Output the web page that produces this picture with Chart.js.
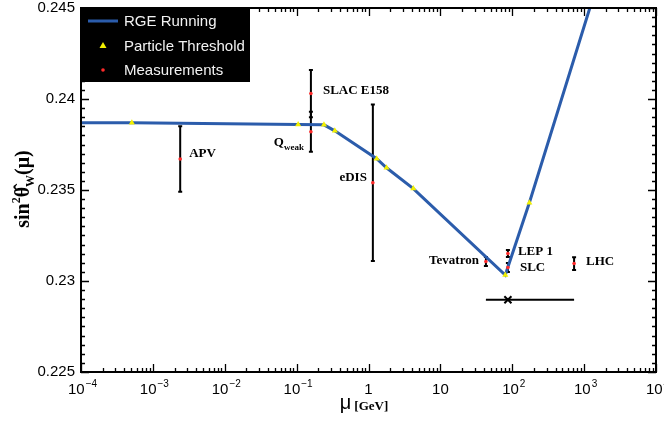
<!DOCTYPE html>
<html>
<head>
<meta charset="utf-8">
<script src="https://cdn.jsdelivr.net/npm/chart.js@4.4.0/dist/chart.umd.min.js"></script>
<style>
  html, body { margin: 0; padding: 0; background: #fff; }
</style>
</head>
<body>
<canvas id="chart" width="664" height="423"></canvas>
<script>
// RGE running curve of sin^2 theta_W (mu in GeV)
const rgeMu  = [1e-4, 5.1e-4, 0.105, 0.24, 0.34, 1.3, 1.78, 4.2, 80, 173, 1200];
const rgeVal = [0.2387, 0.23869, 0.2386, 0.23858, 0.23825, 0.23672, 0.23622, 0.23508, 0.23033, 0.2343, 0.245];

// particle thresholds on the curve
const thresholdMu  = [5.1e-4, 0.105, 0.24, 0.34, 1.3, 1.78, 4.2, 80, 173];
const thresholdVal = [0.23869, 0.2386, 0.23858, 0.23825, 0.23672, 0.23622, 0.23508, 0.23033, 0.2343];

// measurements with errors
const measNames = ["APV", "Qweak", "SLAC E158", "eDIS", "Tevatron", "LEP 1", "SLC", "LHC"];
const measMu    = [2.4e-3, 0.158, 0.158, 1.15, 43, 87, 87, 725];
const measVal   = [0.2367, 0.2382, 0.2403, 0.2354, 0.23107, 0.23151, 0.23074, 0.23096];
const measErr   = [0.0018, 0.0011, 0.0013, 0.0043, 0.00025, 0.00019, 0.00025, 0.00035];

// horizontal bar below the Z pole
const barMu  = [43, 87, 725];
const barVal = [0.22897, 0.22897, 0.22897];

const xDecades = [-4, -3, -2, -1, 0, 1, 2, 3, 4];
const yMin = 0.225, yMax = 0.245, yStep = 0.0005;

const BLUE = "#2b5cab";
const YELLOW = "#f2f000";
const RED = "#ff2a2a";

// label placement: [align, dx, dy] relative to the measurement point
const labelPlace = [
  ["left", 9, -2],
  ["right", -7, 14],
  ["left", 12, 0],
  ["right", -6, -2],
  ["right", -7, 2],
  ["left", 10, 1],
  ["left", 12, 3],
  ["left", 12, 1]
];

function isMajorY(v) {
  return Math.round(v * 10000) % 50 === 0;
}

const decor = {
  id: "decor",
  beforeDatasetsDraw(chart) {
    const { ctx, scales: { x, y } } = chart;
    ctx.save();
    ctx.strokeStyle = "#000";
    ctx.lineWidth = 2;
    measMu.forEach((m, i) => {
      const px = x.getPixelForValue(m);
      const top = y.getPixelForValue(measVal[i] + measErr[i]);
      const bot = y.getPixelForValue(measVal[i] - measErr[i]);
      ctx.beginPath();
      ctx.moveTo(px, top); ctx.lineTo(px, bot);
      ctx.moveTo(px - 2, top); ctx.lineTo(px + 2, top);
      ctx.moveTo(px - 2, bot); ctx.lineTo(px + 2, bot);
      ctx.stroke();
    });
    ctx.restore();
  },
  afterDraw(chart) {
    const { ctx, chartArea: a, scales: { x, y } } = chart;
    ctx.save();

    // frame
    ctx.strokeStyle = "#000";
    ctx.lineWidth = 2;
    ctx.strokeRect(a.left, a.top, a.right - a.left, a.bottom - a.top);

    // inward ticks, mirrored
    ctx.lineWidth = 1.3;
    ctx.beginPath();
    y.ticks.forEach(t => {
      const py = Math.round(y.getPixelForValue(t.value)) + 0.5;
      const len = isMajorY(t.value) ? 8 : 4;
      ctx.moveTo(a.left, py); ctx.lineTo(a.left + len, py);
      ctx.moveTo(a.right, py); ctx.lineTo(a.right - len, py);
    });
    xDecades.forEach(d => {
      for (let k = 1; k <= 9; k++) {
        if (d === 4 && k > 1) break;
        const px = Math.round(x.getPixelForValue(k * Math.pow(10, d))) + 0.5;
        const len = k === 1 ? 8 : 4;
        ctx.moveTo(px, a.bottom); ctx.lineTo(px, a.bottom - len);
        ctx.moveTo(px, a.top); ctx.lineTo(px, a.top + len);
      }
    });
    ctx.stroke();

    // x tick labels with superscripts
    ctx.fillStyle = "#000";
    ctx.textBaseline = "alphabetic";
    xDecades.forEach(d => {
      const px = x.getPixelForValue(Math.pow(10, d));
      const base = a.bottom + 22;
      if (d === 0 || d === 1) {
        ctx.font = '15px "Liberation Sans", Arial, sans-serif';
        ctx.textAlign = "center";
        ctx.fillText(d === 0 ? "1" : "10", px, base);
      } else {
        const exp = d < 0 ? "\u2212" + (-d) : String(d);
        ctx.font = '15px "Liberation Sans", Arial, sans-serif';
        const w1 = ctx.measureText("10").width;
        ctx.font = '10px "Liberation Sans", Arial, sans-serif';
        const w2 = ctx.measureText(exp).width;
        const start = px - (w1 + w2) / 2 + 1;
        ctx.textAlign = "left";
        ctx.font = '15px "Liberation Sans", Arial, sans-serif';
        ctx.fillText("10", start, base);
        ctx.font = '10px "Liberation Sans", Arial, sans-serif';
        ctx.fillText(exp, start + w1 + 1, base - 7);
      }
    });

    // x title
    ctx.textAlign = "left";
    ctx.font = '20px "Liberation Sans", Arial, sans-serif';
    const wMu = ctx.measureText("\u03bc").width;
    ctx.font = 'bold 13px "Liberation Serif", "Times New Roman", serif';
    const wGev = ctx.measureText("[GeV]").width;
    let sx = 364 - (wMu + 3 + wGev) / 2;
    ctx.font = '20px "Liberation Sans", Arial, sans-serif';
    ctx.fillText("\u03bc", sx, 409);
    ctx.font = 'bold 13px "Liberation Serif", "Times New Roman", serif';
    ctx.fillText("[GeV]", sx + wMu + 3, 410);

    // y title, rotated
    const big = 'bold 20px "Liberation Serif", "Times New Roman", serif';
    const small = 'bold 12px "Liberation Serif", "Times New Roman", serif';
    const parts = [
      ["sin", big, 0],
      ["2", small, -9],
      ["\u03b8\u0302", big, 0],
      ["W", small, 5],
      ["(\u03bc)", big, 0]
    ];
    let total = 0;
    parts.forEach(p => { ctx.font = p[1]; total += ctx.measureText(p[0]).width; });
    ctx.translate(29, 189);
    ctx.rotate(-Math.PI / 2);
    let cx = -total / 2;
    parts.forEach(p => {
      ctx.font = p[1];
      ctx.fillText(p[0], cx, p[2]);
      cx += ctx.measureText(p[0]).width;
    });
    ctx.setTransform(1, 0, 0, 1, 0, 0);

    // measurement labels
    const lf = 'bold 13px "Liberation Serif", "Times New Roman", serif';
    measNames.forEach((name, i) => {
      const px = x.getPixelForValue(measMu[i]);
      const py = y.getPixelForValue(measVal[i]);
      const [align, dx, dy] = labelPlace[i];
      if (name === "Qweak") {
        ctx.font = lf;
        const wq = ctx.measureText("Q").width;
        ctx.font = 'bold 9px "Liberation Serif", "Times New Roman", serif';
        const ws = ctx.measureText("weak").width;
        const left = px + dx - wq - ws;
        ctx.textAlign = "left";
        ctx.font = lf;
        ctx.fillText("Q", left, py + dy);
        ctx.font = 'bold 9px "Liberation Serif", "Times New Roman", serif';
        ctx.fillText("weak", left + wq, py + dy + 4);
      } else {
        ctx.font = lf;
        ctx.textAlign = align;
        ctx.fillText(name, px + dx, py + dy);
      }
    });

    // legend box
    ctx.fillStyle = "#000";
    ctx.fillRect(a.left, a.top, 169, 74);
    ctx.font = '15px "Liberation Sans", Arial, sans-serif';
    ctx.textAlign = "left";
    ctx.textBaseline = "middle";
    const ds = chart.data.datasets;
    const rows = [ds[2], ds[0], ds[1]];
    rows.forEach((d, i) => {
      const ry = a.top + 13 + i * 24.5;
      const mx = a.left + 22;
      if (i === 0) {
        ctx.strokeStyle = BLUE; ctx.lineWidth = 3;
        ctx.beginPath(); ctx.moveTo(a.left + 7, ry); ctx.lineTo(a.left + 37, ry); ctx.stroke();
      } else if (i === 1) {
        ctx.fillStyle = YELLOW;
        ctx.beginPath();
        ctx.moveTo(mx, ry - 3.5); ctx.lineTo(mx + 3.5, ry + 2.5); ctx.lineTo(mx - 3.5, ry + 2.5);
        ctx.closePath(); ctx.fill();
      } else {
        ctx.fillStyle = RED;
        ctx.beginPath(); ctx.arc(mx, ry, 1.8, 0, Math.PI * 2); ctx.fill();
      }
      ctx.fillStyle = "#f2f2f2";
      ctx.fillText(d.label, a.left + 43, ry + 1);
    });

    ctx.restore();
  }
};

new Chart(document.getElementById("chart"), {
  type: "scatter",
  data: {
    datasets: [
      {
        label: "Particle Threshold",
        data: thresholdMu.map((m, i) => ({ x: m, y: thresholdVal[i] })),
        pointStyle: "triangle",
        pointRadius: 3.5,
        backgroundColor: YELLOW,
        borderWidth: 0
      },
      {
        label: "Measurements",
        data: measMu.map((m, i) => ({ x: m, y: measVal[i] })),
        pointRadius: 1.8,
        backgroundColor: RED,
        borderWidth: 0
      },
      {
        type: "line",
        label: "RGE Running",
        data: rgeMu.map((m, i) => ({ x: m, y: rgeVal[i] })),
        borderColor: BLUE,
        borderWidth: 3,
        pointRadius: 0,
        tension: 0,
        fill: false
      },
      {
        type: "line",
        label: "",
        data: barMu.map((m, i) => ({ x: m, y: barVal[i] })),
        borderColor: "#000",
        borderWidth: 2,
        pointStyle: "crossRot",
        pointRadius: [0, 5, 0],
        pointBorderWidth: 2,
        pointBorderColor: "#000",
        tension: 0,
        fill: false
      }
    ]
  },
  options: {
    responsive: false,
    animation: false,
    layout: { padding: { top: 8, right: 8, left: 0, bottom: 0 } },
    plugins: {
      legend: { display: false },
      tooltip: { enabled: false }
    },
    scales: {
      x: {
        type: "logarithmic",
        min: 1e-4,
        max: 1e4,
        grid: { display: false, drawTicks: false },
        border: { display: false },
        ticks: { display: false },
        afterFit(scale) {
          scale.height = 51;
          scale.paddingLeft = 0; scale.paddingRight = 0;
        }
      },
      y: {
        min: yMin,
        max: yMax,
        grid: { display: false, drawTicks: false },
        border: { display: false },
        ticks: {
          stepSize: yStep,
          autoSkip: false,
          padding: 6,
          color: "#000",
          font: { family: '"Liberation Sans", Arial, sans-serif', size: 15 },
          callback: v => isMajorY(v) ? String(Math.round(v * 1000) / 1000) : ""
        },
        afterFit(scale) {
          scale.width = 81;
          scale.paddingTop = 0; scale.paddingBottom = 0;
        }
      }
    }
  },
  plugins: [decor]
});
</script>
</body>
</html>
